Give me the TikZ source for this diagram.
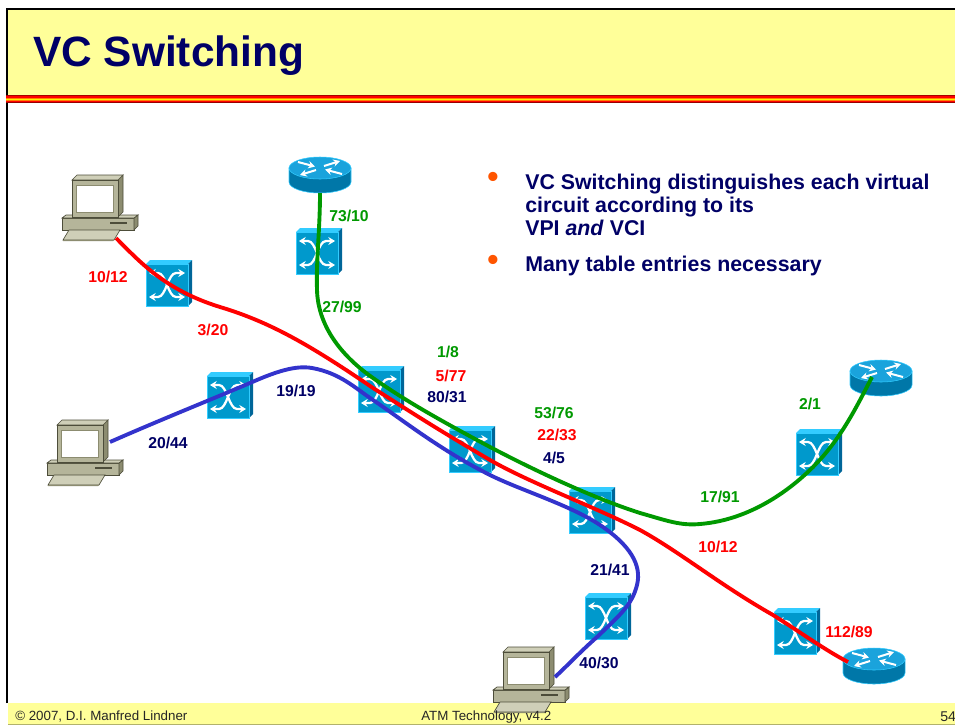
\documentclass[tikz,border=0pt]{standalone}
\usepackage{fontspec}
\setmainfont{Liberation Sans}
\usetikzlibrary{arrows.meta}
\definecolor{navyt}{HTML}{000066}
\definecolor{hdr}{HTML}{FFFF99}
\definecolor{gr}{HTML}{009900}
\definecolor{rd}{HTML}{FF0000}
\definecolor{bl}{HTML}{3333CC}
\definecolor{swf}{HTML}{0099CC}
\definecolor{swt}{HTML}{33CCFF}
\definecolor{sws}{HTML}{006699}
\definecolor{rtop}{HTML}{1AA3DC}
\definecolor{rside}{HTML}{0077A8}
\definecolor{pcf}{HTML}{B5B59A}
\definecolor{pcd}{HTML}{8C8C70}
\definecolor{pcl}{HTML}{CFCFB8}
\definecolor{pce}{HTML}{4D4D3A}
\definecolor{bdot}{HTML}{FF5500}
\tikzset{
 lbl/.style={font=\bfseries\fontsize{11.8}{13}\selectfont,inner sep=0pt},
 lblg/.style={lbl,text=gr},
 lblr/.style={lbl,text=rd},
 lbln/.style={lbl,text=navyt},
 bullettxt/.style={font=\bfseries\fontsize{16}{17.3}\selectfont,text=navyt,align=left,anchor=north west,inner sep=0pt},
 bulletdot/.style={font=\bfseries\fontsize{24}{24}\selectfont,text=bdot,inner sep=0pt},
 foot/.style={font=\fontsize{10}{11}\selectfont,text=black!85,inner sep=0pt},
 wire/.style={line width=2.9pt,line cap=butt},
 swarrow/.style={draw=white,line width=1.7pt,{Stealth[length=5pt,width=6pt]}-{Stealth[length=5pt,width=6pt]}},
 rarrow/.style={draw=white,line width=1.5pt,-{Stealth[length=5pt,width=5.5pt]}},
 switchpic/.pic={
  \fill[swt] (-21,-21) -- (-17,-25) -- (25,-25) -- (21,-21) -- cycle;
  \fill[sws] (21,-21) -- (25,-25) -- (25,17) -- (21,21) -- cycle;
  \fill[swf] (-21,-21) rectangle (21,21);
  \draw[swt,line width=0.6pt] (-21,-21) rectangle (21,21);
  \draw[swarrow] (-18,-12) -- (-9,-12) .. controls (-1,-12) and (1,12) .. (9,12) -- (18,12);
  \draw[swarrow] (-18,12) -- (-9,12) .. controls (-1,12) and (1,-12) .. (9,-12) -- (18,-12);
 },
 routerpic/.pic={
  \fill[rside,draw=swt,line width=0.4pt] (-31,0) -- (-31,14) arc[start angle=180,end angle=0,x radius=31,y radius=11] -- (31,0) -- cycle;
  \fill[rtop,draw=swt,line width=0.4pt] (0,0) ellipse[x radius=31,y radius=11];
  \draw[rarrow] (-22,-6) -- (-5,-1.5);
  \draw[rarrow] (22,6) -- (5,1.5);
  \draw[rarrow] (-4,2) -- (-20,7);
  \draw[rarrow] (4,-2) -- (20,-7);
 },
 pcpic/.pic={
  \fill[pcf,draw=pce,line width=0.5pt] (-10,38) -- (62,38) -- (62,50) -- (-10,50) -- cycle;
  \fill[pcd,draw=pce,line width=0.5pt] (62,38) -- (62,50) -- (66,46) -- (66,35) -- cycle;
  \fill[pcl,draw=pce,line width=0.5pt] (-10,38) -- (-6,35) -- (66,35) -- (62,38) -- cycle;
  \draw[pce,line width=0.8pt] (38,43) -- (55,43);
  \fill[pcl,draw=pce,line width=0.5pt] (-3,50) -- (48,50) -- (42,60) -- (-9,60) -- cycle;
  \fill[pcd] (-9,60) -- (42,60) -- (41,61) -- (-9,61) -- cycle;
  \fill[pcd,draw=pce,line width=0.5pt] (46,0) -- (51,-5) -- (51,32) -- (46,37) -- cycle;
  \fill[pcl,draw=pce,line width=0.5pt] (0,0) -- (5,-5) -- (51,-5) -- (46,0) -- cycle;
  \fill[pcf,draw=pce,line width=0.5pt] (0,0) rectangle (46,37);
  \fill[white,draw=pcd,line width=0.5pt] (4,5) rectangle (41,32);
 }
}
\begin{document}
\begin{tikzpicture}[x=0.75pt,y=-0.75pt]
\useasboundingbox (0,0) rectangle (955,725);
\fill[white] (0,0) rectangle (955,725);
\fill[hdr] (8,9) rectangle (955,95);
\fill[hdr] (8,703) rectangle (955,724);
\draw[black,line width=1.5pt] (7,703) -- (7,8.5) -- (955,8.5);
\draw[hdr!70!black,line width=0.5pt] (8,724) -- (955,724);
\foreach \a/\b/\c in {95/96/red!65!black,96/97.5/rd,97.5/98.5/orange,98.5/100/yellow,100/101/orange,101/102/rd,102/103/red!60!black}{
  \fill[\c] (6,\a) rectangle (955,\b);
}
\node[font=\bfseries\fontsize{31.8}{36}\selectfont,text=navyt,anchor=west,inner sep=0pt] (title) at (33,56) {VC Switching};
\node[bulletdot] (b1) at (493,180) {•};
\node[bullettxt] (t1) at (525,174) {VC Switching distinguishes each virtual\\circuit according to its\\VPI \textit{and} VCI};
\node[bulletdot] (b2) at (493,263) {•};
\node[bullettxt] (t2) at (525,256) {Many table entries necessary};
\coordinate (pc1) at (72,180);
\coordinate (pc2) at (57,425);
\coordinate (pc3) at (503,652);
\coordinate (r1) at (320,168);
\coordinate (r2) at (881,371);
\coordinate (r3) at (874,659);
\coordinate (s1) at (167,285);
\coordinate (s2) at (228,397);
\coordinate (s3) at (317,253);
\coordinate (s4) at (379,391);
\coordinate (s5) at (470,451);
\coordinate (s6) at (590,512);
\coordinate (s7) at (606,618);
\coordinate (s8) at (795,633);
\coordinate (s9) at (817,454);
\pic at (pc1) {pcpic};
\pic at (pc2) {pcpic};
\pic at (pc3) {pcpic};
\pic at (r1) {routerpic};
\pic at (r2) {routerpic};
\pic at (r3) {routerpic};
\foreach \s in {s1,s2,s3,s4,s5,s6,s7,s8,s9}{\pic at (\s) {switchpic};}
\node[foot,anchor=west] (f1) at (15,717) {© 2007, D.I. Manfred Lindner};
\node[foot,anchor=west] (f2) at (421,717) {ATM Technology, v4.2};
\node[font=\fontsize{10.6}{12}\selectfont,text=black!85,anchor=west,inner sep=0pt] (f3) at (940,717) {54};
\coordinate (gs) at (320,193);
\coordinate (ge) at (872,377);
\coordinate (rs) at (116,238);
\coordinate (re) at (848,662);
\coordinate (bs) at (110,442);
\coordinate (be) at (555,677);
\draw[wire,bl] (bs) .. controls (160,420) and (210,400) .. (250,383) .. controls (275,372) and (295,365) .. (312,368) .. controls (340,373) and (355,388) .. (373,400) .. controls (400,418) and (440,450) .. (490,475) .. controls (520,490) and (570,505) .. (600,525) .. controls (630,545) and (642,565) .. (637,585) .. controls (632,605) and (620,615) .. (597,637) .. controls (580,652) and (568,665) .. (be);
\draw[wire,rd] (rs) .. controls (140,262) and (165,290) .. (220,307) .. controls (270,322) and (310,345) .. (373,388) .. controls (400,405) and (430,425) .. (490,460) .. controls (530,483) and (595,507) .. (640,530) .. controls (680,552) and (720,585) .. (773,615) .. controls (800,632) and (825,650) .. (re);
\draw[wire,gr] (gs) .. controls (320,230) and (316,260) .. (317,290) .. controls (318,325) and (340,355) .. (373,378) .. controls (400,397) and (430,415) .. (490,447) .. controls (530,468) and (590,497) .. (640,513) .. controls (665,520) and (680,526) .. (700,524) .. controls (750,520) and (790,490) .. (813,467) .. controls (840,440) and (855,410) .. (ge);
\node[lblr] (l1) at (108,277) {10/12};
\node[lblr] (l2) at (213,330) {3/20};
\node[lbln] (l3) at (296,391) {19/19};
\node[lbln] (l4) at (168,443) {20/44};
\node[lblg] (l5) at (349,216) {73/10};
\node[lblg] (l6) at (342,307) {27/99};
\node[lblg] (l7) at (448,352) {1/8};
\node[lblr] (l8) at (451,376) {5/77};
\node[lbln] (l9) at (447,397) {80/31};
\node[lblg] (l10) at (554,413) {53/76};
\node[lblr] (l11) at (557,435) {22/33};
\node[lbln] (l12) at (554,458) {4/5};
\node[lblg] (l13) at (810,404) {2/1};
\node[lblg] (l14) at (720,497) {17/91};
\node[lblr] (l15) at (718,547) {10/12};
\node[lbln] (l16) at (610,570) {21/41};
\node[lbln] (l17) at (599,663) {40/30};
\node[lblr] (l18) at (849,632) {112/89};
\end{tikzpicture}
\end{document}
